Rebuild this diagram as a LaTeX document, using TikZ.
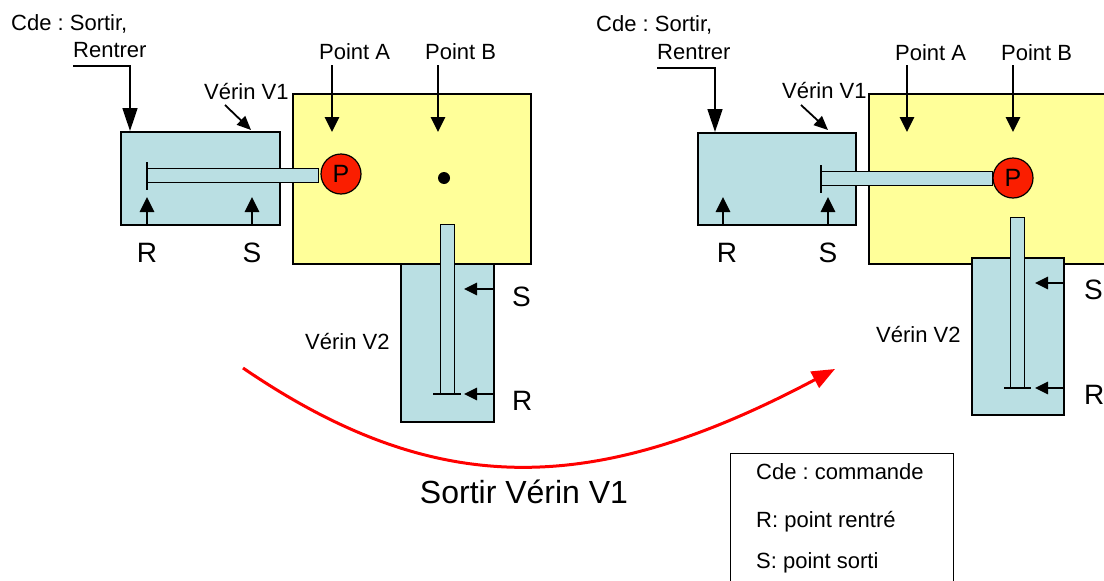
\documentclass[tikz,border=0pt]{standalone}
\usepackage{fontspec}
\setmainfont{Liberation Sans}
\usetikzlibrary{arrows.meta}
\definecolor{cylblue}{RGB}{186,223,227}
\definecolor{plateyel}{RGB}{255,255,153}
\definecolor{pred}{RGB}{250,30,0}
\frenchspacing
\begin{document}
\begin{tikzpicture}[x=1pt,y=-1pt,
  plate/.style={draw=black,line width=1.5pt,fill=plateyel,inner sep=0pt,anchor=north west},
  cyl/.style={draw=black,line width=1.5pt,fill=cylblue,inner sep=0pt,anchor=north west},
  rod/.style={draw=black,line width=1.2pt,fill=cylblue,inner sep=0pt,anchor=north west},
  piston/.style={draw=black,line width=1.5pt},
  pcircle/.style={circle,draw=black,line width=1.2pt,fill=pred,minimum size=40pt,inner sep=0pt,font=\fontsize{25}{28}\selectfont},
  dotnode/.style={circle,fill=black,minimum size=12pt,inner sep=0pt},
  lbl/.style={inner sep=0pt,anchor=base west,font=\fontsize{22}{26}\selectfont},
  rslbl/.style={inner sep=0pt,anchor=base west,font=\fontsize{28}{32}\selectfont},
  clbl/.style={inner sep=0pt,anchor=base,font=\fontsize{28}{32}\selectfont},
  bigarrow/.style={line width=2.8pt,-{Triangle[length=15pt,width=14pt]}},
  cdearrow/.style={line width=1.5pt,-{Triangle[length=23pt,width=15pt]}},
  thinarrow/.style={line width=1.8pt,-{Triangle[length=14pt,width=12pt]}},
  smallarrow/.style={line width=2.8pt,-{Triangle[length=15pt,width=14pt]}},
  sidearrow/.style={line width=2.8pt,-{Triangle[length=13pt,width=12pt]}},
  redarrow/.style={draw=red,line width=3pt,-{Triangle[length=23pt,width=18pt]}},
  legendbox/.style={draw=black,line width=1.2pt,inner sep=0pt,anchor=north west}]
\useasboundingbox (0,0) rectangle (1104,581);
\clip (0,0) rectangle (1104,581);
\fill[white] (0,0) rectangle (1104,581);

% ================= LEFT DIAGRAM =================
\node[plate,minimum width=238pt,minimum height=170pt] (yelL) at (292,93) {};
\node[cyl,minimum width=93pt,minimum height=158pt] (v2L) at (400,263) {};
\node[rod,minimum width=14pt,minimum height=170pt] (rod2L) at (440,224) {};
\coordinate (p2La) at (433,394); \coordinate (p2Lb) at (461,394);
\draw[piston] (p2La) -- (p2Lb);
\node[cyl,minimum width=159pt,minimum height=93pt] (v1L) at (120,131) {};
\node[rod,minimum width=171pt,minimum height=14pt] (rod1L) at (147,168) {};
\coordinate (p1La) at (147,162); \coordinate (p1Lb) at (147,190);
\draw[piston] (p1La) -- (p1Lb);
\node[pcircle] (PL) at (341,174) {P};
\node[dotnode] (dotL) at (444,178) {};

\node[lbl] (cdeL1) at (11,30) {Cde : Sortir,};
\node[lbl] (cdeL2) at (73,57) {Rentrer};
\node[lbl] (ptAL) at (319,59) {Point A};
\node[lbl] (ptBL) at (425,59) {Point B};
\node[lbl] (v1tL) at (204,99) {Vérin V1};
\node[clbl] (RL) at (147,262) {R};
\node[clbl] (SL) at (252,262) {S};
\node[rslbl] (SL2) at (512,306) {S};
\node[rslbl] (RL2) at (512,410) {R};
\node[lbl] (v2tL) at (305,349) {Vérin V2};

\coordinate (aLs) at (332,65); \coordinate (aLe) at (332,132);
\coordinate (bLs) at (438,65); \coordinate (bLe) at (438,132);
\draw[bigarrow] (aLs) -- (aLe);
\draw[bigarrow] (bLs) -- (bLe);
\coordinate (cLs) at (73,66); \coordinate (cLe) at (130,131);
\draw[cdearrow] (cLs) -| (cLe);
\coordinate (vLs) at (225,105); \coordinate (vLe) at (251,130);
\draw[thinarrow] (vLs) -- (vLe);
\coordinate (rLs) at (147,225); \coordinate (rLe) at (147,197);
\coordinate (sLs) at (252,225); \coordinate (sLe) at (252,197);
\draw[smallarrow] (rLs) -- (rLe);
\draw[smallarrow] (sLs) -- (sLe);
\coordinate (s2Ls) at (493,289); \coordinate (s2Le) at (464,289);
\coordinate (r2Ls) at (493,394); \coordinate (r2Le) at (464,394);
\draw[sidearrow] (s2Ls) -- (s2Le);
\draw[sidearrow] (r2Ls) -- (r2Le);

% ================= RIGHT DIAGRAM =================
\node[plate,minimum width=250pt,minimum height=170pt] (yelR) at (868,93) {};
\node[cyl,minimum width=92pt,minimum height=157pt] (v2R) at (971,257) {};
\node[rod,minimum width=14pt,minimum height=171pt] (rod2R) at (1010,217) {};
\coordinate (p2Ra) at (1004,388); \coordinate (p2Rb) at (1031,388);
\draw[piston] (p2Ra) -- (p2Rb);
\node[cyl,minimum width=158pt,minimum height=92pt] (v1R) at (697,132) {};
\node[rod,minimum width=171pt,minimum height=14pt] (rod1R) at (821,171) {};
\coordinate (p1Ra) at (821,165); \coordinate (p1Rb) at (821,193);
\draw[piston] (p1Ra) -- (p1Rb);
\node[pcircle] (PR) at (1013,178) {P};

\node[lbl] (cdeR1) at (596,31) {Cde : Sortir,};
\node[lbl] (cdeR2) at (657,59) {Rentrer};
\node[lbl] (ptAR) at (895,60) {Point A};
\node[lbl] (ptBR) at (1001,60) {Point B};
\node[lbl] (v1tR) at (782,98) {Vérin V1};
\node[clbl] (RR) at (727,262) {R};
\node[clbl] (SR) at (828,262) {S};
\node[rslbl] (SR2) at (1084,299) {S};
\node[rslbl] (RR2) at (1084,404) {R};
\node[lbl] (v2tR) at (876,342) {Vérin V2};

\coordinate (aRs) at (907,65); \coordinate (aRe) at (907,132);
\coordinate (bRs) at (1013,65); \coordinate (bRe) at (1013,132);
\draw[bigarrow] (aRs) -- (aRe);
\draw[bigarrow] (bRs) -- (bRe);
\coordinate (cRs) at (657,68); \coordinate (cRe) at (715,132);
\draw[cdearrow] (cRs) -| (cRe);
\coordinate (vRs) at (801,105); \coordinate (vRe) at (828,130);
\draw[thinarrow] (vRs) -- (vRe);
\coordinate (rRs) at (723,225); \coordinate (rRe) at (723,197);
\coordinate (sRs) at (828,225); \coordinate (sRe) at (828,197);
\draw[smallarrow] (rRs) -- (rRe);
\draw[smallarrow] (sRs) -- (sRe);
\coordinate (s2Rs) at (1063,283); \coordinate (s2Re) at (1035,283);
\coordinate (r2Rs) at (1063,388); \coordinate (r2Re) at (1035,388);
\draw[sidearrow] (s2Rs) -- (s2Re);
\draw[sidearrow] (r2Rs) -- (r2Re);

% ================= TRANSITION =================
\coordinate (arcS) at (243,368); \coordinate (arcE) at (835,369);
\draw[redarrow] (arcS) .. controls (435,499) and (592,498) .. (arcE);
\node[inner sep=0pt,font=\fontsize{32}{38}\selectfont] (trans) at (524,492) {Sortir Vérin V1};

% ================= LEGEND =================
\node[legendbox,minimum width=223pt,minimum height=150pt] (legend) at (730,453) {};
\node[lbl] (lg1) at (756,479) {Cde : commande};
\node[lbl] (lg2) at (756,527) {R: point rentré};
\node[lbl] (lg3) at (756,568) {S: point sorti};
\end{tikzpicture}
\end{document}
